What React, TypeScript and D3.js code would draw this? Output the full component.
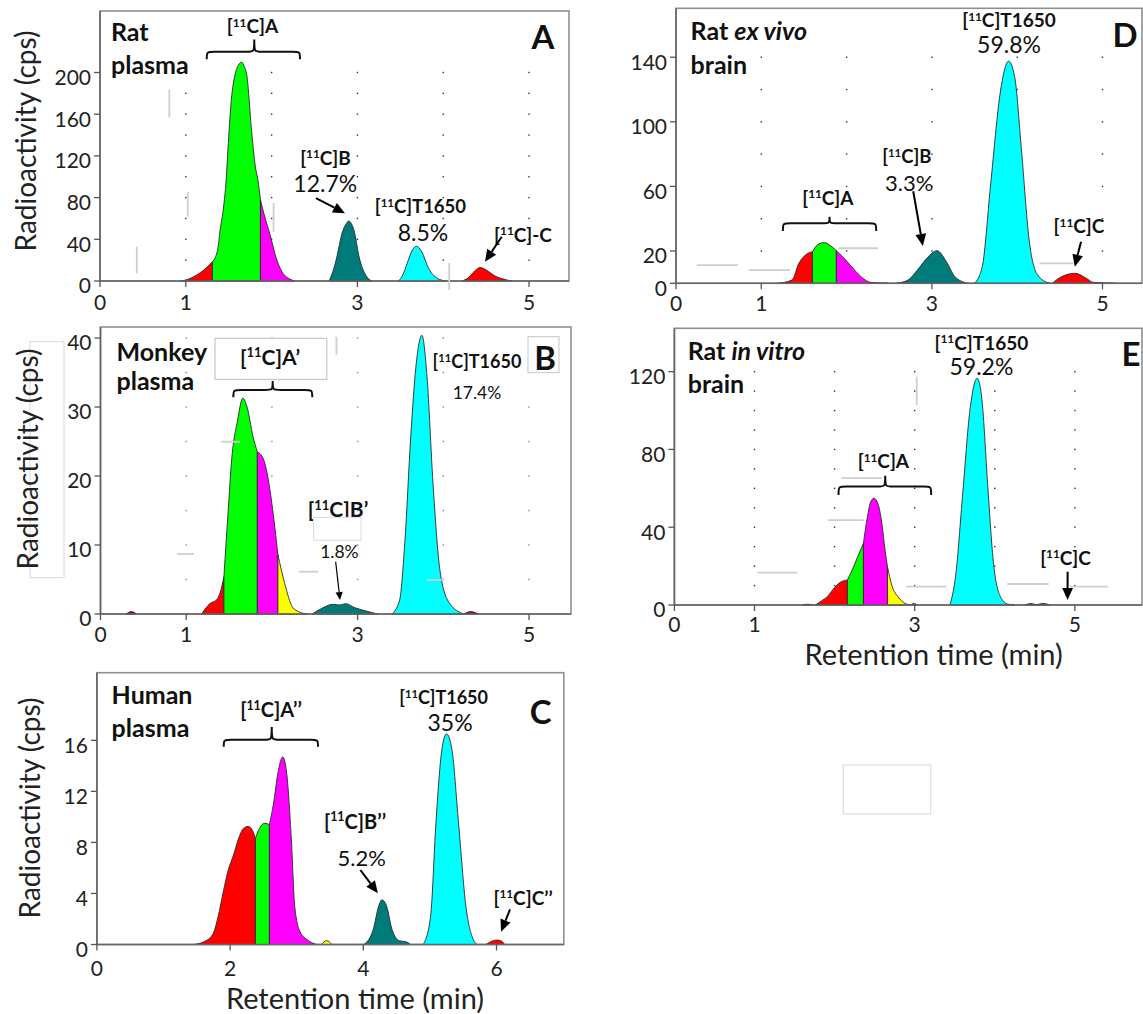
import React from "react";
import * as d3 from "d3";

type Pt = [number, number];

const RED = "#ff0000";
const GREEN = "#00ff00";
const MAGENTA = "#ff00ff";
const YELLOW = "#ffff00";
const TEAL = "#007b7b";
const CYAN = "#00ffff";
const DARKRED = "#a01010";

// ---------- Panel A : Rat plasma (retention time min, cps) ----------
const A_red: Pt[] = [[0.94, 0], [1.02, 1.5], [1.09, 4], [1.16, 7.5], [1.21, 10.5], [1.31, 18.4]];
const A_green: Pt[] = [[1.31, 18.4], [1.37, 29.6], [1.4, 48.7], [1.44, 71], [1.47, 96.5], [1.49, 125], [1.53, 173], [1.58, 200], [1.62, 208], [1.65, 210], [1.68, 206], [1.71, 198], [1.77, 141], [1.81, 110], [1.84, 97], [1.87, 78]];
const A_magenta: Pt[] = [[1.87, 78], [1.91, 64.7], [1.99, 42], [2.05, 23], [2.12, 9], [2.22, 1.6], [2.27, 0]];
const A_B: Pt[] = [[2.67, 0], [2.72, 10.5], [2.76, 23], [2.82, 45.6], [2.87, 55], [2.9, 57.5], [2.93, 55], [2.96, 48.7], [3.02, 23], [3.11, 4], [3.17, 0]];
const A_T1650: Pt[] = [[3.48, 0], [3.53, 6], [3.58, 17], [3.64, 29.6], [3.69, 33.4], [3.75, 28], [3.83, 12], [3.93, 2.6], [4.03, 0]];
const A_C: Pt[] = [[4.22, 0], [4.29, 3], [4.36, 9], [4.43, 13], [4.53, 9], [4.6, 5], [4.67, 2.6], [4.8, 0]];

// ---------- Panel B : Monkey plasma ----------
const B_pre: Pt[] = [[0.3, 0], [0.36, 0.35], [0.42, 0]];
const B_red: Pt[] = [[1.18, 0], [1.28, 1.55], [1.35, 2], [1.41, 3.7], [1.44, 5.4]];
const B_green: Pt[] = [[1.44, 5.4], [1.49, 15], [1.53, 22.3], [1.6, 28.1], [1.66, 31.3], [1.71, 30], [1.78, 25.7], [1.83, 23.5]];
const B_magenta: Pt[] = [[1.83, 23.5], [1.9, 22.5], [1.95, 20], [2.0, 16], [2.07, 8.6]];
const B_yellow: Pt[] = [[2.07, 8.6], [2.15, 4.4], [2.24, 1], [2.32, 0.3], [2.41, 0]];
const B_B: Pt[] = [[2.47, 0], [2.58, 0.8], [2.71, 1.4], [2.79, 1.3], [2.86, 1.5], [2.97, 0.9], [3.14, 0.3], [3.23, 0]];
const B_T1650: Pt[] = [[3.4, 0], [3.49, 2], [3.55, 10.2], [3.62, 25.7], [3.68, 35.8], [3.75, 40.4], [3.81, 34.4], [3.88, 18.9], [3.96, 6.4], [4.07, 1.6], [4.24, 0]];
const B_post: Pt[] = [[4.24, 0], [4.32, 0.35], [4.41, 0]];

// ---------- Panel C : Human plasma ----------
const C_red: Pt[] = [[1.45, 0], [1.6, 0.2], [1.74, 0.8], [1.82, 2.2], [1.9, 4.2], [1.97, 5.8], [2.05, 7.0], [2.12, 8.2], [2.2, 9.1], [2.27, 9.25], [2.33, 9.0], [2.38, 8.3]];
const C_green: Pt[] = [[2.38, 8.3], [2.44, 9.1], [2.52, 9.5], [2.59, 9.4]];
const C_magenta: Pt[] = [[2.59, 9.4], [2.65, 11], [2.72, 13.5], [2.79, 14.7], [2.85, 13.4], [2.92, 8.2], [2.97, 3], [3.05, 1], [3.15, 0.4], [3.3, 0]];
const C_yellow: Pt[] = [[3.37, 0], [3.45, 0.3], [3.53, 0]];
const C_B: Pt[] = [[4.01, 0], [4.15, 1.2], [4.23, 3], [4.28, 3.5], [4.35, 3], [4.43, 1.2], [4.54, 0.3], [4.65, 0.2], [4.71, 0]];
const C_T1650: Pt[] = [[4.9, 0], [5.01, 2.2], [5.09, 9.5], [5.18, 15.3], [5.25, 16.5], [5.33, 15.3], [5.43, 9.5], [5.54, 3], [5.65, 0.4], [5.71, 0]];
const C_C: Pt[] = [[5.84, 0], [5.95, 0.3], [6.01, 0.35], [6.08, 0.25], [6.12, 0]];

// ---------- Panel D : Rat ex vivo brain ----------
const D_red: Pt[] = [[1.19, 0], [1.36, 2], [1.44, 12.4], [1.53, 18], [1.6, 19.6]];
const D_green: Pt[] = [[1.6, 19.6], [1.67, 24.3], [1.74, 25.2], [1.8, 23.7], [1.88, 20.2]];
const D_magenta: Pt[] = [[1.88, 20.2], [1.99, 14.4], [2.11, 7.2], [2.22, 2], [2.28, 0.6], [2.49, 0]];
const D_B: Pt[] = [[2.58, 0], [2.72, 2], [2.83, 8.2], [2.94, 15.5], [3.06, 20.2], [3.17, 13.4], [3.27, 4.1], [3.42, 0]];
const D_T1650: Pt[] = [[3.5, 0], [3.59, 10.3], [3.69, 62], [3.8, 117.6], [3.9, 137.6], [3.97, 128], [4.05, 82.5], [4.14, 26.8], [4.24, 5.1], [4.38, 0]];
const D_C: Pt[] = [[4.41, 0], [4.52, 4.1], [4.68, 6.2], [4.81, 3.1], [4.89, 0.6], [5.16, 0]];

// ---------- Panel E : Rat in vitro brain ----------
const E_pre: Pt[] = [[1.6, 0], [1.66, 0.4], [1.73, 0]];
const E_red: Pt[] = [[1.76, 0], [1.85, 2.5], [1.91, 4.3], [1.98, 8], [2.05, 11.1], [2.16, 12.9]];
const E_green: Pt[] = [[2.16, 12.9], [2.22, 18], [2.28, 24], [2.36, 31.7]];
const E_magenta: Pt[] = [[2.36, 31.7], [2.41, 45.4], [2.45, 53], [2.49, 54.9], [2.54, 52.3], [2.59, 42], [2.63, 28.3], [2.66, 19.7]];
const E_yellow: Pt[] = [[2.66, 19.7], [2.72, 9.4], [2.79, 4.3], [2.88, 0.8], [2.94, 0]];
const E_minor: Pt[] = [[2.95, 0], [2.99, 0.8], [3.03, 0]];
const E_T1650: Pt[] = [[3.44, 0], [3.51, 14.6], [3.6, 57.5], [3.69, 100.3], [3.78, 116.6], [3.84, 105.5], [3.91, 62.6], [3.98, 23.1], [4.07, 4.3], [4.16, 0.5], [4.25, 0]];
const E_post: Pt[] = [[4.38, 0], [4.45, 0.8], [4.52, 0.2], [4.6, 0.8], [4.69, 0]];

// ---------- axis ticks ----------
const xTicksMin = [0, 1, 3, 5];
const xTicksC = [0, 2, 4, 6];
const yTicksA = [0, 40, 80, 120, 160, 200];
const yTicksB = [0, 10, 20, 30, 40];
const yTicksC = [0, 4, 8, 12, 16];
const yTicksD = [0, 20, 60, 100, 140];
const yTicksE = [0, 40, 80, 120];
const gridX = [1, 2, 3, 4, 5];
const gridYA = [20, 40, 60, 80, 100, 120, 140, 160, 180, 200];
const gridYB = [5, 10, 15, 20, 25, 30, 35, 40];
const gridYD = [20, 40, 60, 80, 100, 120, 140];
const gridYE = [10, 20, 30, 40, 50, 60, 70, 80, 90, 100, 110, 120];

const FONT = "Lato, 'Open Sans', sans-serif";
const INK = "#111";
const TICK_FS = 21;
const PCT_FS = 23;
const TAG_FS = 19;
const NAME_FS = 25;
const LETTER_FS = 33;

type Seg = { pts: Pt[]; color: string };
type Sc = d3.ScaleLinear<number, number>;

interface PanelProps {
  left: number; top: number; right: number; bottom: number;
  xMax: number; yMax: number;
  xTicks: number[]; yTicks: number[];
  dotX: number[]; dotY: number[]; dotColor: string;
  segs: Seg[];
  labelGapY?: number;
  notes: (x: Sc, y: Sc) => React.ReactNode;
}

function Panel(p: PanelProps) {
  const x = d3.scaleLinear().domain([0, p.xMax]).range([p.left, p.right]);
  const y = d3.scaleLinear().domain([0, p.yMax]).range([p.bottom, p.top]);
  const area = d3.area<Pt>().x(d => x(d[0])).y0(y(0)).y1(d => y(d[1])).curve(d3.curveMonotoneX);
  return (
    <g>
      <rect x={p.left} y={p.top} width={p.right - p.left} height={p.bottom - p.top} fill="#fff" stroke="#8f8f8f" strokeWidth={1.6} />
      {p.dotX.map(gx => p.dotY.map(gy => (
        <rect key={gx + "_" + gy} x={x(gx) - 0.7} y={y(gy) - 0.7} width={1.4} height={1.4} fill={p.dotColor} />
      )))}
      {p.segs.map((s, i) => (
        <path key={i} d={area(s.pts) || ""} fill={s.color} stroke="#2a2a2a" strokeWidth={0.9} strokeLinejoin="round" />
      ))}
      <line x1={p.left} x2={p.right} y1={p.bottom} y2={p.bottom} stroke="#666" strokeWidth={1.6} />
      <line x1={p.left} x2={p.left} y1={p.top} y2={p.bottom} stroke="#666" strokeWidth={1.6} />
      {p.yTicks.map(t => (
        <g key={"y" + t}>
          <line x1={p.left - 6} x2={p.left} y1={y(t)} y2={y(t)} stroke="#555" strokeWidth={1.3} />
          <text x={p.left - 9} y={y(t) + 5} dy="0.35em" textAnchor="end" fontSize={TICK_FS} fill="#222">{t}</text>
        </g>
      ))}
      {p.xTicks.map(t => (
        <g key={"x" + t}>
          <line x1={x(t)} x2={x(t)} y1={p.bottom} y2={p.bottom + 6} stroke="#555" strokeWidth={1.3} />
          <text x={x(t)} y={p.bottom + (p.labelGapY ?? 22)} dy="0.35em" textAnchor="middle" fontSize={TICK_FS} fill="#222">{t}</text>
        </g>
      ))}
      {p.notes(x, y)}
    </g>
  );
}

function Tag({ x, y, suffix, size = TAG_FS }: { x: number; y: number; suffix: string; size?: number }) {
  return (
    <text x={x} y={y} dy="0.35em" textAnchor="middle" fontSize={size} fontWeight={700} fill={INK}>
      [<tspan fontSize={size * 0.62} dy={-size * 0.36}>11</tspan><tspan dy={size * 0.36}>C]{suffix}</tspan>
    </text>
  );
}

function Txt({ x, y, children, size = PCT_FS, bold = false, anchor = "middle" }: any) {
  return (
    <text x={x} y={y} dy="0.35em" textAnchor={anchor} fontSize={size} fontWeight={bold ? 700 : 400} fill={INK}>{children}</text>
  );
}

function Arrow({ x1, y1, x2, y2, w = 2, head = 12 }: { x1: number; y1: number; x2: number; y2: number; w?: number; head?: number }) {
  const a = Math.atan2(y2 - y1, x2 - x1);
  const bx = x2 - head * Math.cos(a);
  const by = y2 - head * Math.sin(a);
  const hw = head * 0.45;
  const pts = [
    [x2, y2],
    [bx + hw * Math.sin(a), by - hw * Math.cos(a)],
    [bx - hw * Math.sin(a), by + hw * Math.cos(a)],
  ].map(q => q.join(",")).join(" ");
  return (
    <g>
      <line x1={x1} y1={y1} x2={bx} y2={by} stroke="#000" strokeWidth={w} />
      <polygon points={pts} fill="#000" />
    </g>
  );
}

function Brace({ x1, x2, xm, yLine, yEnd, yTip }: { x1: number; x2: number; xm: number; yLine: number; yEnd: number; yTip: number }) {
  const r = 8;
  const d = `M${x1},${yEnd} C${x1},${yLine} ${x1},${yLine} ${x1 + r},${yLine} L${xm - r},${yLine} C${xm},${yLine} ${xm},${yLine} ${xm},${yTip} C${xm},${yLine} ${xm},${yLine} ${xm + r},${yLine} L${x2 - r},${yLine} C${x2},${yLine} ${x2},${yLine} ${x2},${yEnd}`;
  return <path d={d} fill="none" stroke="#111" strokeWidth={2} />;
}

function Smudge({ x1, y1, x2, y2 }: { x1: number; y1: number; x2: number; y2: number }) {
  return <line x1={x1} y1={y1} x2={x2} y2={y2} stroke="#cfcfcf" strokeWidth={1.8} />;
}

function YTitle({ cx, cy }: { cx: number; cy: number }) {
  return (
    <text transform={`translate(${cx},${cy}) rotate(-90)`} dy="0.35em" textAnchor="middle" fontSize={28} fill="#222">Radioactivity (cps)</text>
  );
}

export default function App() {
  return (
    <svg width={1143} height={1014} style={{ position: "absolute", left: 0, top: 0, background: "#fff" }} fontFamily={FONT}>
      <rect width={1143} height={1014} fill="#fff" />

      {/* Panel A */}
      <Panel left={100} top={11} right={569} bottom={281} xMax={5.466} yMax={259}
        xTicks={xTicksMin} yTicks={yTicksA} dotX={gridX} dotY={gridYA} dotColor="#333"
        segs={[{ pts: A_red, color: RED }, { pts: A_green, color: GREEN }, { pts: A_magenta, color: MAGENTA }, { pts: A_B, color: TEAL }, { pts: A_T1650, color: CYAN }, { pts: A_C, color: RED }]}
        notes={(x, y) => (
          <g>
            <Smudge x1={x(0.808)} y1={y(183.8)} x2={x(0.808)} y2={y(156.9)} />
            <Smudge x1={x(1.023)} y1={y(85.6)} x2={x(1.023)} y2={y(61.6)} />
            <Smudge x1={x(0.429)} y1={y(32.9)} x2={x(0.429)} y2={y(7.4)} />
            <Smudge x1={x(2.023)} y1={y(74.8)} x2={x(2.023)} y2={y(47.3)} />
            <Smudge x1={x(4.07)} y1={y(17.3)} x2={x(4.07)} y2={y(-8.6)} />
            <Txt x={x(0.128)} y={y(238.7)} size={NAME_FS} bold anchor="start">Rat</Txt>
            <Txt x={x(0.128)} y={y(207)} size={NAME_FS} bold anchor="start">plasma</Txt>
            <Tag x={x(1.777)} y={y(243.8)} suffix="A" />
            <Brace x1={x(1.244)} x2={x(2.331)} xm={x(1.798)} yLine={y(219.8)} yEnd={y(212.6)} yTip={y(231.7)} />
            <Tag x={x(2.628)} y={y(118)} suffix="B" />
            <Txt x={x(2.626)} y={y(92.7)}>12.7%</Txt>
            <Arrow x1={x(2.517)} y1={y(79.6)} x2={x(2.855)} y2={y(64.9)} />
            <Tag x={x(3.735)} y={y(71.2)} suffix="T1650" size={18.5} />
            <Txt x={x(3.765)} y={y(45.7)}>8.5%</Txt>
            <Tag x={x(4.93)} y={y(44.1)} suffix="-C" />
            <Arrow x1={x(4.682)} y1={y(42.5)} x2={x(4.487)} y2={y(18.5)} />
            <Txt x={x(5.163)} y={y(233.9)} size={LETTER_FS} bold>A</Txt>
          </g>
        )}
      />

      {/* Panel B */}
      <rect x={30} y={341.7} width={34} height={236} fill="none" stroke="#d8d8d8" strokeWidth={1} />
      <Panel left={100.5} top={327} right={571} bottom={614} xMax={5.49} yMax={41.6} labelGapY={21}
        xTicks={xTicksMin} yTicks={yTicksB} dotX={gridX} dotY={gridYB} dotColor="#7b7bea"
        segs={[{ pts: B_pre, color: DARKRED }, { pts: B_red, color: RED }, { pts: B_green, color: GREEN }, { pts: B_magenta, color: MAGENTA }, { pts: B_yellow, color: YELLOW }, { pts: B_B, color: TEAL }, { pts: B_T1650, color: CYAN }, { pts: B_post, color: DARKRED }]}
        notes={(x, y) => (
          <g>
            <Smudge x1={x(0.893)} y1={y(8.7)} x2={x(1.091)} y2={y(8.7)} />
            <Smudge x1={x(2.316)} y1={y(6.13)} x2={x(2.538)} y2={y(6.13)} />
            <Smudge x1={x(1.406)} y1={y(24.97)} x2={x(1.628)} y2={y(24.97)} />
            <Smudge x1={x(3.81)} y1={y(4.93)} x2={x(4.008)} y2={y(4.93)} />
            <Smudge x1={x(2.753)} y1={y(40.2)} x2={x(2.753)} y2={y(37.6)} />
            <Txt x={x(0.187)} y={y(38.0)} size={NAME_FS} bold anchor="start">Monkey</Txt>
            <Txt x={x(0.187)} y={y(33.7)} size={NAME_FS} bold anchor="start">plasma</Txt>
            <rect x={x(1.336)} y={y(39.96)} width={x(2.64) - x(1.336)} height={y(34.0) - y(39.96)} fill="#fff" stroke="#c8c8c8" strokeWidth={1.2} />
            <Tag x={x(1.978)} y={y(37.2)} suffix="A’" size={21} />
            <Brace x1={x(1.55)} x2={x(2.471)} xm={x(2.009)} yLine={y(32.46)} yEnd={y(31.4)} yTip={y(33.77)} />
            <Tag x={x(4.393)} y={y(36.57)} suffix="T1650" size={18} />
            <Txt x={x(4.393)} y={y(32.0)} size={17.5}>17.4%</Txt>
            <rect x={x(4.988)} y={y(40.2)} width={x(5.35) - x(4.988)} height={y(35.0) - y(40.2)} fill="#fff" stroke="#cfcfcf" strokeWidth={1.2} />
            <Txt x={x(5.187)} y={y(37.1)} size={LETTER_FS} bold>B</Txt>
            <Tag x={x(2.771)} y={y(15.07)} suffix="B’" size={21} />
            <rect x={x(2.485)} y={y(14.0)} width={x(3.04) - x(2.485)} height={y(10.7) - y(14.0)} fill="#fff" stroke="#dcdcdc" strokeWidth={1} />
            <Txt x={x(2.788)} y={y(8.94)} size={17.5}>1.8%</Txt>
            <Arrow x1={x(2.744)} y1={y(7.58)} x2={x(2.795)} y2={y(2.03)} w={1.2} head={8} />
          </g>
        )}
      />

      {/* Panel C */}
      <Panel left={96.9} top={672.7} right={563.8} bottom={944.5} xMax={7.01} yMax={21.3} labelGapY={24}
        xTicks={xTicksC} yTicks={yTicksC} dotX={[]} dotY={[]} dotColor="#333"
        segs={[{ pts: C_red, color: RED }, { pts: C_green, color: GREEN }, { pts: C_magenta, color: MAGENTA }, { pts: C_yellow, color: YELLOW }, { pts: C_B, color: TEAL }, { pts: C_T1650, color: CYAN }, { pts: C_C, color: RED }]}
        notes={(x, y) => (
          <g>
            <Txt x={x(0.221)} y={y(19.57)} size={NAME_FS} bold anchor="start">Human</Txt>
            <Txt x={x(0.221)} y={y(16.96)} size={NAME_FS} bold anchor="start">plasma</Txt>
            <Tag x={x(2.614)} y={y(18.39)} suffix="A’’" size={20} />
            <Brace x1={x(1.904)} x2={x(3.32)} xm={x(2.625)} yLine={y(16.04)} yEnd={y(15.49)} yTip={y(17.04)} />
            <Tag x={x(5.206)} y={y(19.31)} suffix="T1650" size={18} />
            <Txt x={x(5.302)} y={y(17.4)}>35%</Txt>
            <Txt x={x(6.661)} y={y(18.16)} size={LETTER_FS} bold>C</Txt>
            <Tag x={x(3.875)} y={y(9.63)} suffix="B’’" size={20} />
            <Txt x={x(3.975)} y={y(6.76)} size={22}>5.2%</Txt>
            <Arrow x1={x(3.956)} y1={y(5.84)} x2={x(4.218)} y2={y(4.02)} />
            <Tag x={x(6.398)} y={y(3.62)} suffix="C’’" />
            <Arrow x1={x(6.203)} y1={y(2.76)} x2={x(6.068)} y2={y(1.0)} />
          </g>
        )}
      />

      {/* Panel D */}
      <Panel left={676} top={8.3} right={1142} bottom={283.3} xMax={5.463} yMax={170.3} labelGapY={20}
        xTicks={xTicksMin} yTicks={yTicksD} dotX={gridX} dotY={gridYD} dotColor="#333"
        segs={[{ pts: D_red, color: RED }, { pts: D_green, color: GREEN }, { pts: D_magenta, color: MAGENTA }, { pts: D_B, color: TEAL }, { pts: D_T1650, color: CYAN }, { pts: D_C, color: RED }]}
        notes={(x, y) => (
          <g>
            <Smudge x1={x(0.243)} y1={y(11.3)} x2={x(0.727)} y2={y(11.3)} />
            <Smudge x1={x(0.853)} y1={y(8.2)} x2={x(1.336)} y2={y(8.2)} />
            <Smudge x1={x(1.905)} y1={y(21.7)} x2={x(2.368)} y2={y(21.7)} />
            <Smudge x1={x(4.263)} y1={y(12.4)} x2={x(4.662)} y2={y(12.4)} />
            <Txt x={x(0.171)} y={y(155.8)} size={NAME_FS} bold anchor="start">Rat <tspan fontStyle="italic">ex vivo</tspan></Txt>
            <Txt x={x(0.171)} y={y(135.2)} size={NAME_FS} bold anchor="start">brain</Txt>
            <Tag x={x(1.78)} y={y(52.6)} suffix="A" />
            <Brace x1={x(1.253)} x2={x(2.347)} xm={x(1.8)} yLine={y(37.2)} yEnd={y(32.4)} yTip={y(41.2)} />
            <Tag x={x(2.706)} y={y(78.2)} suffix="B" size={18.5} />
            <Txt x={x(2.735)} y={y(62.0)} size={22}>3.3%</Txt>
            <Arrow x1={x(2.781)} y1={y(57.0)} x2={x(2.894)} y2={y(23.1)} />
            <Tag x={x(3.904)} y={y(162.6)} suffix="T1650" />
            <Txt x={x(3.904)} y={y(147.6)}>59.8%</Txt>
            <Txt x={x(5.264)} y={y(153.7)} size={LETTER_FS} bold>D</Txt>
            <Tag x={x(4.724)} y={y(35.0)} suffix="C" />
            <Arrow x1={x(4.748)} y1={y(25.8)} x2={x(4.675)} y2={y(10.3)} />
          </g>
        )}
      />

      {/* Panel E */}
      <Panel left={674.4} top={328.3} right={1142} bottom={605} xMax={5.838} yMax={142.3} labelGapY={20}
        xTicks={xTicksMin} yTicks={yTicksE} dotX={gridX} dotY={gridYE} dotColor="#333"
        segs={[{ pts: E_pre, color: DARKRED }, { pts: E_red, color: RED }, { pts: E_green, color: GREEN }, { pts: E_magenta, color: MAGENTA }, { pts: E_yellow, color: YELLOW }, { pts: E_minor, color: "#8a8a00" }, { pts: E_T1650, color: CYAN }, { pts: E_post, color: DARKRED }]}
        notes={(x, y) => (
          <g>
            <Smudge x1={x(1.04)} y1={y(16.6)} x2={x(1.533)} y2={y(16.6)} />
            <Smudge x1={x(2.085)} y1={y(65.2)} x2={x(2.587)} y2={y(65.2)} />
            <Smudge x1={x(1.915)} y1={y(43.7)} x2={x(2.363)} y2={y(43.7)} />
            <Smudge x1={x(2.891)} y1={y(9.4)} x2={x(3.391)} y2={y(9.4)} />
            <Smudge x1={x(4.156)} y1={y(10.8)} x2={x(4.672)} y2={y(10.8)} />
            <Smudge x1={x(4.939)} y1={y(9.4)} x2={x(5.411)} y2={y(9.4)} />
            <Smudge x1={x(3.026)} y1={y(117.4)} x2={x(3.026)} y2={y(102.9)} />
            <Txt x={x(0.166)} y={y(130.3)} size={NAME_FS} bold anchor="start">Rat <tspan fontStyle="italic">in vitro</tspan></Txt>
            <Txt x={x(0.166)} y={y(113.7)} size={NAME_FS} bold anchor="start">brain</Txt>
            <Tag x={x(3.833)} y={y(134.6)} suffix="T1650" />
            <Txt x={x(3.833)} y={y(122.6)}>59.2%</Txt>
            <Txt x={x(5.7)} y={y(128.6)} size={LETTER_FS} bold>E</Txt>
            <Tag x={x(2.609)} y={y(73.7)} suffix="A" />
            <Brace x1={x(2.049)} x2={x(3.206)} xm={x(2.632)} yLine={y(60.9)} yEnd={y(56.6)} yTip={y(66.5)} />
            <Tag x={x(4.883)} y={y(24.0)} suffix="C" />
            <Arrow x1={x(4.909)} y1={y(17.1)} x2={x(4.909)} y2={y(2.6)} />
          </g>
        )}
      />

      {/* axis titles */}
      <YTitle cx={26} cy={141} />
      <YTitle cx={28} cy={459} />
      <YTitle cx={30} cy={808} />
      <text x={355} y={999} dy="0.35em" textAnchor="middle" fontSize={29} fill="#222">Retention time (min)</text>
      <text x={933.7} y={655} dy="0.35em" textAnchor="middle" fontSize={29} fill="#222">Retention time (min)</text>

      {/* stray frame left in the figure */}
      <rect x={843.3} y={765} width={87.4} height={49} fill="none" stroke="#dedede" strokeWidth={1.2} />
    </svg>
  );
}
